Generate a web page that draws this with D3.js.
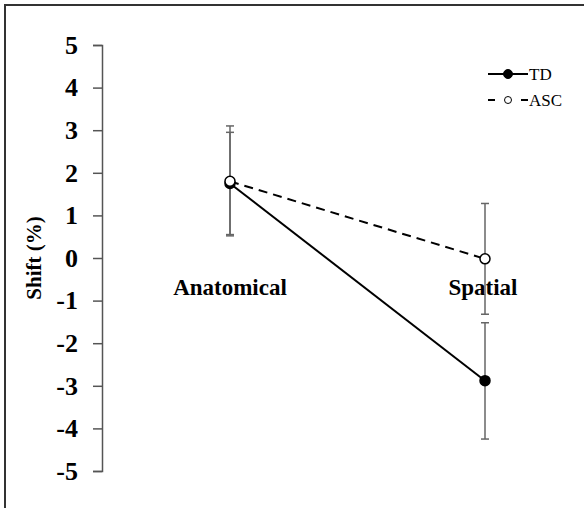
<!DOCTYPE html>
<html>
<head>
<meta charset="utf-8">
<script src="https://cdn.jsdelivr.net/npm/d3@7"></script>
<style>
  body { margin: 0; background: #fff; }
  svg { display: block; font-family: "Liberation Serif", "Times New Roman", serif; }
</style>
</head>
<body>
<svg id="chart" width="584" height="508"></svg>
<script>
// Shift (%) by condition, two groups with error bars

const conditions = ["Anatomical", "Spatial"];
const yTicks = [5, 4, 3, 2, 1, 0, -1, -2, -3, -4, -5];

const tdMeans = [1.75, -2.88];
const tdErrLow = [0.55, -4.25];
const tdErrHigh = [2.95, -1.52];

const ascMeans = [1.8, -0.02];
const ascErrLow = [0.52, -1.32];
const ascErrHigh = [3.1, 1.28];

const series = [
  { name: "TD", means: tdMeans, lo: tdErrLow, hi: tdErrHigh, dash: null, fill: "#000" },
  { name: "ASC", means: ascMeans, lo: ascErrLow, hi: ascErrHigh, dash: "9,6", fill: "#fff" }
];

const svg = d3.select("#chart");

// frame (only left and top edges fall inside the view)
svg.append("rect")
  .attr("x", 5).attr("y", 5)
  .attr("width", 700).attr("height", 600)
  .attr("fill", "none")
  .attr("stroke", "#333")
  .attr("stroke-width", 2);

const margin = { left: 102, top: 45 };
const g = svg.append("g").attr("transform", `translate(${margin.left},${margin.top})`);

const yScale = d3.scaleLinear().domain([-5, 5]).range([426, 0]);
const xScale = d3.scalePoint().domain(conditions).range([128, 383]);

// y axis
const yAxis = d3.axisLeft(yScale)
  .tickValues(yTicks)
  .tickSize(9)
  .tickSizeOuter(9)
  .tickPadding(15)
  .tickFormat(d3.format("d"));

const ax = g.append("g").attr("class", "y-axis").call(yAxis);
ax.select(".domain").attr("stroke", "#555").attr("stroke-width", 1.5);
ax.selectAll(".tick line").attr("stroke", "#555").attr("stroke-width", 1.5);
ax.selectAll("text")
  .attr("fill", "#000")
  .style("font-family", "'Liberation Serif', serif")
  .style("font-size", "26px")
  .style("font-weight", "bold")
  .text(d => d < 0 ? "-" + Math.abs(d) : d);

// y label
g.append("text")
  .attr("transform", `translate(-61, ${yScale(0)}) rotate(-90)`)
  .attr("text-anchor", "middle")
  .style("font-size", "21px")
  .style("font-weight", "bold")
  .text("Shift (%)");

// category labels
g.selectAll(".cat-label")
  .data(conditions)
  .enter()
  .append("text")
  .attr("class", "cat-label")
  .attr("x", d => xScale(d) - (d === "Spatial" ? 2 : 0))
  .attr("y", yScale(0) + 37)
  .attr("text-anchor", "middle")
  .style("font-size", "23px")
  .style("font-weight", "bold")
  .text(d => d);

// error bars
series.forEach(s => {
  const eb = g.append("g").attr("class", "errbars-" + s.name);
  conditions.forEach((c, i) => {
    const x = xScale(c);
    eb.append("line")
      .attr("x1", x).attr("x2", x)
      .attr("y1", yScale(s.lo[i])).attr("y2", yScale(s.hi[i]))
      .attr("stroke", "#666").attr("stroke-width", 1.5);
    [s.lo[i], s.hi[i]].forEach(v => {
      eb.append("line")
        .attr("x1", x - 4).attr("x2", x + 4)
        .attr("y1", yScale(v)).attr("y2", yScale(v))
        .attr("stroke", "#666").attr("stroke-width", 1.5);
    });
  });
});

// lines
const line = d3.line()
  .x((d, i) => xScale(conditions[i]))
  .y(d => yScale(d));

series.forEach(s => {
  g.append("path")
    .datum(s.means)
    .attr("d", line)
    .attr("fill", "none")
    .attr("stroke", "#000")
    .attr("stroke-width", 2)
    .attr("stroke-dasharray", s.dash);
});

// markers
series.forEach(s => {
  g.selectAll(".pt-" + s.name)
    .data(s.means)
    .enter()
    .append("circle")
    .attr("class", "pt-" + s.name)
    .attr("cx", (d, i) => xScale(conditions[i]))
    .attr("cy", d => yScale(d))
    .attr("r", 5)
    .attr("fill", s.fill)
    .attr("stroke", "#000")
    .attr("stroke-width", 1.5);
});

// legend
const legend = svg.append("g").attr("class", "legend").attr("transform", "translate(488, 74)");
const items = legend.selectAll(".legend-item")
  .data(series)
  .enter()
  .append("g")
  .attr("class", "legend-item")
  .attr("transform", (d, i) => `translate(0, ${i * 26})`);

items.append("line")
  .attr("x1", 0).attr("x2", 40)
  .attr("y1", 0).attr("y2", 0)
  .attr("stroke", "#000")
  .attr("stroke-width", 2)
  .attr("stroke-dasharray", d => d.dash ? "7,26,7" : null);

items.append("circle")
  .attr("cx", 20).attr("cy", 0)
  .attr("r", d => d.name === "TD" ? 4.5 : 3.5)
  .attr("fill", d => d.fill)
  .attr("stroke", "#000")
  .attr("stroke-width", 1);

items.append("text")
  .attr("x", 41)
  .attr("y", 0)
  .attr("dy", "0.35em")
  .style("font-size", "17px")
  .text(d => d.name);
</script>
</body>
</html>
